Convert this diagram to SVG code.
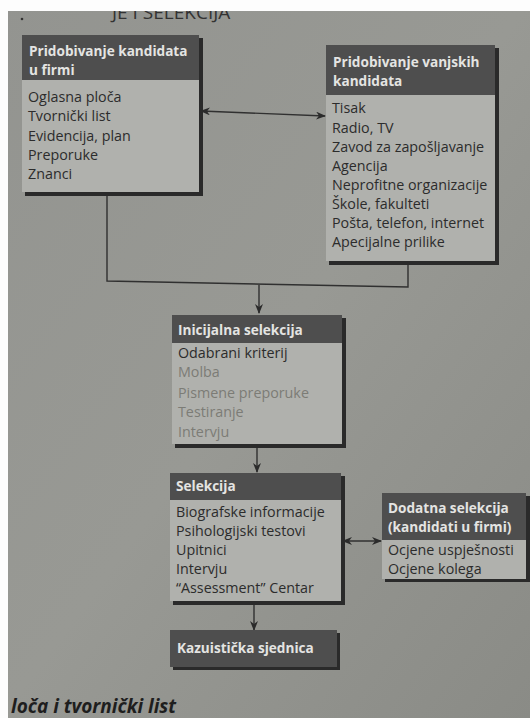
<svg xmlns="http://www.w3.org/2000/svg" width="530" height="718" viewBox="0 0 530 718">
<defs>
<linearGradient id="bg" x1="0" y1="0" x2="1" y2="1">
<stop offset="0" stop-color="#939490"/>
<stop offset="0.5" stop-color="#989994"/>
<stop offset="1" stop-color="#8a8b86"/>
</linearGradient>
<marker id="ah" viewBox="0 0 10 8" refX="9" refY="4" markerWidth="10" markerHeight="8" markerUnits="userSpaceOnUse" orient="auto-start-reverse">
<path d="M0,0 L10,4 L0,8 L3,4 z" fill="#2b2b2b"/>
</marker>
</defs>
<style>
.shadow{fill:#2a2a2a}
.body{fill:#b0b1ad}
.head{fill:#4e4e4e}
.ht{font-family:"Open Sans","DejaVu Sans",sans-serif;font-weight:bold;font-size:13.6px;fill:#e4e4e2}
.bt{font-family:"Open Sans","DejaVu Sans",sans-serif;font-size:14.3px;fill:#2c2c2c}
.ft{fill:#7c7c76}
.conn{fill:none;stroke:#303030;stroke-width:1.4}
</style>
<rect width="530" height="718" fill="url(#bg)"/>
<text x="112" y="19" font-family="Open Sans,sans-serif" font-size="19" fill="#333">JE I SELEKCIJA</text>
<rect x="0" y="0" width="530" height="11" fill="#fdfdfd"/>
<rect x="0" y="0" width="8" height="718" fill="#fdfdfd"/>
<circle cx="22" cy="19" r="1.3" fill="#333"/>
<text x="11" y="713" font-family="Open Sans,sans-serif" font-style="italic" font-weight="bold" font-size="19" fill="#1e1e1e">loča i tvornički list</text>

<g id="connectors">
<line class="conn" x1="201" y1="111" x2="325" y2="116" marker-start="url(#ah)" marker-end="url(#ah)"/>
<path class="conn" d="M107,196 L107,281 L408,287 L408,264"/>
<line class="conn" x1="259" y1="285" x2="259" y2="313" marker-end="url(#ah)"/>
<line class="conn" x1="257" y1="447" x2="257" y2="472" marker-end="url(#ah)"/>
<line class="conn" x1="343" y1="541" x2="381" y2="541" marker-start="url(#ah)" marker-end="url(#ah)"/>
<line class="conn" x1="254" y1="603" x2="254" y2="630" marker-end="url(#ah)"/>
</g>

<g id="box-firmi">
<rect class="shadow" x="25" y="38" width="178" height="158"/>
<rect class="body" x="22" y="35" width="177" height="157"/>
<rect class="head" x="22" y="35" width="177" height="45"/>
<text class="ht" x="29" y="56">Pridobivanje kandidata</text>
<text class="ht" x="29" y="75">u firmi</text>
<text class="bt" x="28" y="102">Oglasna ploča</text>
<text class="bt" x="28" y="121">Tvornički list</text>
<text class="bt" x="28" y="141">Evidencija, plan</text>
<text class="bt" x="28" y="160">Preporuke</text>
<text class="bt" x="28" y="179">Znanci</text>
</g>

<g id="box-vanjskih">
<rect class="shadow" x="329" y="48" width="170" height="217"/>
<rect class="body" x="326" y="45" width="169" height="216"/>
<rect class="head" x="326" y="45" width="169" height="50"/>
<text class="ht" x="333" y="67">Pridobivanje vanjskih</text>
<text class="ht" x="333" y="86">kandidata</text>
<text class="bt" x="332" y="113">Tisak</text>
<text class="bt" x="332" y="133">Radio, TV</text>
<text class="bt" x="332" y="152">Zavod za zapošljavanje</text>
<text class="bt" x="332" y="171">Agencija</text>
<text class="bt" x="332" y="190">Neprofitne organizacije</text>
<text class="bt" x="332" y="209">Škole, fakulteti</text>
<text class="bt" x="332" y="228">Pošta, telefon, internet</text>
<text class="bt" x="332" y="247">Apecijalne prilike</text>
</g>

<g id="box-inicijalna">
<rect class="shadow" x="175" y="318" width="171" height="130"/>
<rect class="body" x="172" y="315" width="170" height="129"/>
<rect class="head" x="172" y="315" width="170" height="28"/>
<text class="ht" x="178" y="335">Inicijalna selekcija</text>
<text class="bt" x="178" y="358">Odabrani kriterij</text>
<text class="bt ft" x="178" y="377">Molba</text>
<text class="bt ft" x="178" y="398">Pismene preporuke</text>
<text class="bt ft" x="178" y="417">Testiranje</text>
<text class="bt ft" x="178" y="437">Intervju</text>
</g>

<g id="box-selekcija">
<rect class="shadow" x="173" y="476" width="172" height="129"/>
<rect class="body" x="170" y="473" width="171" height="128"/>
<rect class="head" x="170" y="473" width="171" height="27"/>
<text class="ht" x="176" y="491">Selekcija</text>
<text class="bt" x="176" y="517">Biografske informacije</text>
<text class="bt" x="176" y="536">Psihologijski testovi</text>
<text class="bt" x="176" y="555">Upitnici</text>
<text class="bt" x="176" y="574">Intervju</text>
<text class="bt" x="176" y="593">“Assessment” Centar</text>
</g>

<g id="box-dodatna">
<rect class="shadow" x="385" y="496" width="145" height="86"/>
<rect class="body" x="382" y="493" width="144" height="86"/>
<rect class="head" x="382" y="493" width="144" height="47"/>
<text class="ht" x="388" y="513">Dodatna selekcija</text>
<text class="ht" x="388" y="532">(kandidati u firmi)</text>
<text class="bt" x="388" y="555">Ocjene uspješnosti</text>
<text class="bt" x="388" y="574">Ocjene kolega</text>
</g>

<g id="box-kazuisticka">
<rect class="shadow" x="173" y="633" width="167" height="37"/>
<rect class="head" x="170" y="630" width="167" height="37"/>
<text class="ht" x="177" y="653">Kazuistička sjednica</text>
</g>
</svg>
